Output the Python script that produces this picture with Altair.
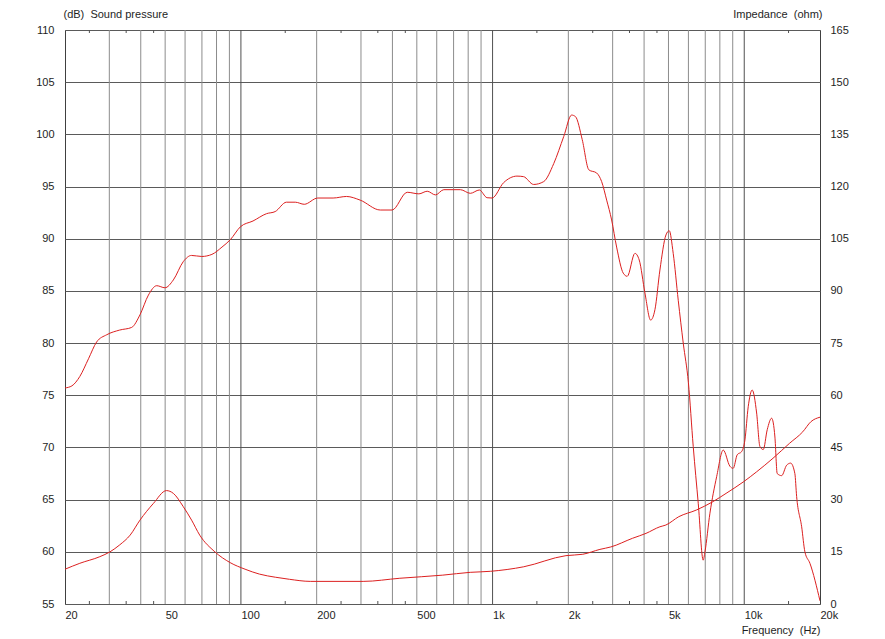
import altair as alt
import pandas as pd

# ---------------- data ----------------
spl_freq = [20, 21.3, 22.9, 24.8, 26.7, 29.3, 33.0, 36.8, 39.7, 42.9, 46.3, 49.9, 53.9,
            59.0, 63.6, 69.9, 76.7, 84.1, 90.7, 99.6, 111.7, 126.4, 136.8, 151.7, 164.5,
            178.5, 202, 232.5, 262.8, 297.7, 357.9, 398.6, 458, 509.6, 550, 593, 640,
            701, 745, 816, 886, 951, 995, 1106, 1250, 1327, 1456, 1596, 1750, 1918,
            2061, 2135, 2271, 2413, 2591, 2713, 2840, 2972, 3111, 3306, 3428, 3679,
            3826, 4031, 4247, 4417, 4623, 4885, 5034, 5221, 5467, 5723, 6000,
            6270, 6565, 6871, 6980, 7306, 7769, 8252, 8770, 9039, 9377, 9762, 10060,
            10370, 10755, 11200, 11540, 11900, 12340, 12850, 13240, 13520, 14080,
            14740, 15290, 15890, 16150, 16910, 17420, 18240, 20000]
spl_db = [75.7, 75.9, 76.8, 78.5, 80.1, 80.8, 81.25, 81.5, 82.7, 84.6, 85.5, 85.3, 86.05,
          87.8, 88.4, 88.3, 88.5, 89.2, 89.9, 91.15, 91.7, 92.4, 92.6, 93.5, 93.5,
          93.3, 93.9, 93.9, 94.05, 93.7, 92.75, 92.75, 94.45, 94.3, 94.55, 94.2, 94.7,
          94.7, 94.7, 94.35, 94.67, 93.93, 93.9, 95.37, 96.0, 95.95, 95.2, 95.47, 97.2, 99.8,
          101.85, 101.7, 99.5, 96.6, 96.3, 95.47, 93.7, 91.8, 89.2, 86.7, 86.4, 88.6,
          87.96, 84.8, 82.2, 83.2, 87.0, 90.36, 90.77, 88.6, 84.1, 80.0, 76.2,
          70.1, 64.65, 59.2, 60.0, 63.7, 67.2, 69.75, 68.2, 68.0, 69.3, 69.6, 70.7,
          73.9, 75.5, 73.3, 70.1, 69.8, 71.7, 72.8, 71.0, 67.5, 67.3,
          68.3, 68.5, 67.5, 65.3, 62.4, 60.0, 58.9, 55.3]

imp_freq = [20, 22.9, 27.5, 30.2, 33.0, 36.3, 39.7, 44.9, 50.6, 53.9, 59.0, 63.7, 68.6,
            78.8, 90.6, 103.9, 118.4, 137, 156, 188.7, 306, 428, 634, 815, 981, 1330,
            1957, 2283, 2670, 2950, 3600, 4070, 4623, 4880, 5495, 6448, 7500, 8470,
            9965, 11200, 13010, 15140, 17080, 18400, 20000]
imp_ohm = [10.0, 11.7, 13.6, 15.0, 17.0, 19.8, 24.1, 28.9, 32.6, 31.8, 28.0, 24.1, 19.8,
           15.0, 11.9, 10.0, 8.6, 7.7, 7.1, 6.5, 6.5, 7.4, 8.3, 9.1, 9.4, 10.7,
           13.9, 14.3, 15.7, 16.4, 18.9, 20.3, 22.2, 22.7, 25.1, 27.0, 29.4, 31.8,
           35.2, 38.0, 41.9, 46.2, 49.5, 52.4, 53.7]

grid_minor = [30, 40, 50, 60, 70, 80, 90, 200, 300, 400, 500, 600, 700, 800, 900,
              2000, 3000, 4000, 5000, 6000, 7000, 8000, 9000]
grid_decade = [100, 1000, 10000]
minor_ticks = [25, 35, 45, 150, 250, 350, 450, 1500, 2500, 3500, 4500, 15000]
x_labels = [20, 50, 100, 200, 500, 1000, 2000, 5000, 10000, 20000]
db_ticks = list(range(55, 111, 5))
ohm_ticks = list(range(0, 166, 15))

# ---------------- chart ----------------
W, H = 755, 574
FONT = "Liberation Sans"
TXT = "#1e1e1e"
RED = "#dc2020"

spl_df = pd.DataFrame({"f": spl_freq, "v": spl_db})
imp_df = pd.DataFrame({"f": imp_freq, "v": imp_ohm})
gmin_df = pd.DataFrame({"f": grid_minor})
gdec_df = pd.DataFrame({"f": grid_decade})
mt_df = pd.DataFrame({"f": minor_ticks})

xscale = alt.Scale(type="log", domain=[20, 20000], nice=False)
x_axis = alt.Axis(
    values=x_labels, orient="bottom", grid=False, ticks=False, domain=False,
    labelExpr="datum.value >= 1000 ? (datum.value / 1000) + 'k' : datum.value",
    labelAlign="left", labelFlush=False, labelOverlap=False, labelBound=False,
    labelPadding=5, labelFont=FONT, labelFontSize=11, labelColor=TXT,
    title="Frequency\u00a0 (Hz)", titleFont=FONT, titleFontSize=11, titleFontWeight="normal",
    titleColor=TXT, titleX=W, titleY=29, titleAlign="right", titleBaseline="alphabetic",
)

def xenc():
    return alt.X("f:Q", scale=xscale, axis=x_axis)

g_minor = alt.Chart(gmin_df).mark_rule(color="#8c8c8c", strokeWidth=1).encode(x=xenc())
g_dec = alt.Chart(gdec_df).mark_rule(color="#505050", strokeWidth=1).encode(x=xenc())
t_top = alt.Chart(mt_df).mark_rule(color="#505050", strokeWidth=1).encode(
    x=xenc(), y=alt.value(0), y2=alt.value(3))
t_bot = alt.Chart(mt_df).mark_rule(color="#505050", strokeWidth=1).encode(
    x=xenc(), y=alt.value(H - 3), y2=alt.value(H))

spl = alt.Chart(spl_df).mark_line(color=RED, strokeWidth=1, interpolate="monotone", clip=True).encode(
    x=xenc(),
    y=alt.Y("v:Q", scale=alt.Scale(domain=[55, 110], nice=False, zero=False),
            axis=alt.Axis(
                orient="left", values=db_ticks, grid=True, gridColor="#5a5a5a", gridOpacity=1,
                ticks=False, domain=False, labelPadding=11, labelFont=FONT, labelFontSize=11,
                labelColor=TXT,
                title="(dB)\u00a0 Sound pressure", titleFont=FONT, titleFontSize=11,
                titleFontWeight="normal", titleColor=TXT, titleAngle=0, titleX=-2, titleY=-13,
                titleAlign="left", titleBaseline="alphabetic")),
)

imp = alt.Chart(imp_df).mark_line(color=RED, strokeWidth=1, interpolate="monotone", clip=True).encode(
    x=xenc(),
    y=alt.Y("v:Q", scale=alt.Scale(domain=[0, 165], nice=False),
            axis=alt.Axis(
                orient="right", values=ohm_ticks, grid=False, ticks=False, domain=False,
                labelPadding=10, labelFont=FONT, labelFontSize=11, labelColor=TXT,
                title="Impedance\u00a0 (ohm)", titleFont=FONT, titleFontSize=11,
                titleFontWeight="normal", titleColor=TXT, titleAngle=0, titleX=2, titleY=-13,
                titleAlign="right", titleBaseline="alphabetic")),
)

chart = alt.layer(g_minor, g_dec, t_top, t_bot, spl, imp).resolve_scale(
    y="independent"
).properties(
    width=W, height=H,
    padding={"left": 57, "top": 22, "right": 45, "bottom": 33},
    autosize=alt.AutoSizeParams(type="none"),
    background="white",
).configure_view(stroke="#404040", strokeWidth=1)

chart.save("out.html", embed_options={"renderer": "svg", "actions": False})
